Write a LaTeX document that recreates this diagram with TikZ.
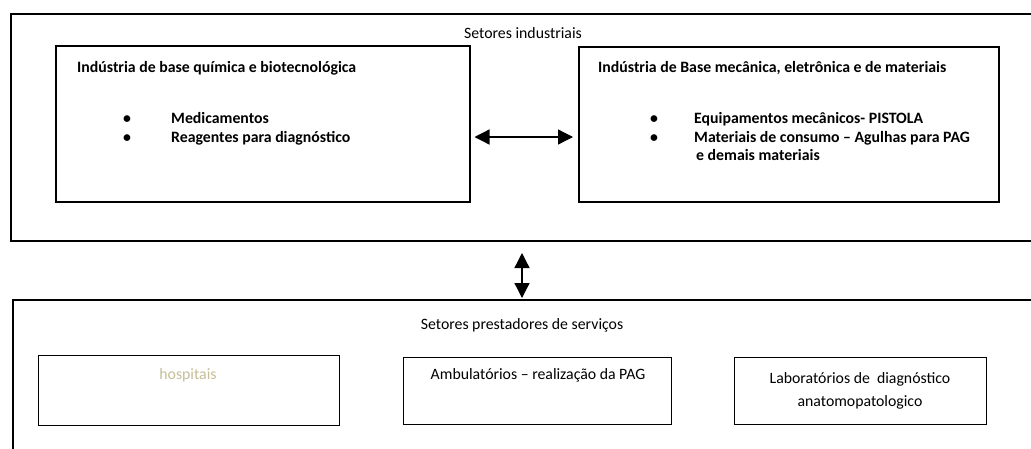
\documentclass[tikz,border=0pt]{standalone}
\usepackage{fontspec}
\setmainfont{Carlito}
\usetikzlibrary{arrows.meta}
\definecolor{khaki}{HTML}{C4BD97}
\begin{document}
\begin{tikzpicture}[x=1pt,y=-1pt,
  outer/.style={draw,line width=2pt,inner sep=0pt},
  inner/.style={draw,line width=1.5pt,inner sep=0pt},
  small/.style={draw,line width=1.3pt,inner sep=0pt},
  lbl/.style={inner sep=0pt,font=\fontsize{15.8}{18}\selectfont},
  blbl/.style={inner sep=0pt,font=\fontsize{15.8}{18}\selectfont\bfseries},
  arr/.style={line width=1.3pt,{Triangle[length=15pt,width=15pt]}-{Triangle[length=15pt,width=15pt]}}]
\useasboundingbox (0,0) rectangle (1031,448);
\clip (0,0) rectangle (1031,448);
% outer boxes
\node[outer,anchor=north west,minimum width=1040pt,minimum height=227pt] (ind) at (10,13) {};
\node[outer,anchor=north west,minimum width=1040pt,minimum height=170pt] (srv) at (12,299) {};
% inner boxes
\node[inner,anchor=north west,minimum width=414pt,minimum height=156pt] (quim) at (55,45) {};
\node[inner,anchor=north west,minimum width=420pt,minimum height=155pt] (mec) at (578,46) {};
\node[small,anchor=north west,minimum width=301pt,minimum height=70pt] (hosp) at (38,355) {};
\node[small,anchor=north west,minimum width=268pt,minimum height=67pt] (amb) at (403,357) {};
\node[small,anchor=north west,minimum width=252pt,minimum height=67pt] (lab) at (734,357) {};
% titles
\node[lbl] (tind) at (523,33) {Setores industriais};
\node[lbl] (tsrv) at (522,325) {Setores prestadores de serviços};
% left box texts
\node[blbl,anchor=base west] (q0) at (77,72) {Indústria de base química e biotecnológica};
\node[blbl,anchor=base] (qb1) at (127,123) {•};
\node[blbl,anchor=base] (qb2) at (127,142) {•};
\node[blbl,anchor=base west] (q1) at (171,123) {Medicamentos};
\node[blbl,anchor=base west] (q2) at (171,142) {Reagentes para diagnóstico};
% right box texts
\node[blbl,anchor=base west] (m0) at (598,72) {Indústria de Base mecânica, eletrônica e de materiais};
\node[blbl,anchor=base] (mb1) at (654,123) {•};
\node[blbl,anchor=base] (mb2) at (654,142) {•};
\node[blbl,anchor=base west] (m1) at (694,123) {Equipamentos mecânicos- PISTOLA};
\node[blbl,anchor=base west] (m2) at (694,142) {Materiais de consumo – Agulhas para PAG};
\node[blbl,anchor=base west] (m3) at (696,160) {e demais materiais};
% service texts
\node[lbl,text=khaki] (h) at (188,375) {hospitais};
\node[lbl] (a) at (538,375) {Ambulatórios – realização da PAG};
\node[lbl] (l1) at (860,379) {Laboratórios de \ diagnóstico};
\node[lbl] (l2) at (860,402) {anatomopatologico};
% arrows
\coordinate (hl) at (quim.east |- 0,137);
\coordinate (hr) at (mec.west |- 0,137);
\draw[arr,shorten <=4pt,shorten >=5pt] (hl) -- (hr);
\coordinate (vt) at (522,240);
\coordinate (vb) at (522,299);
\draw[arr,shorten <=13pt,shorten >=1pt] (vt) -- (vb);
\end{tikzpicture}
\end{document}
